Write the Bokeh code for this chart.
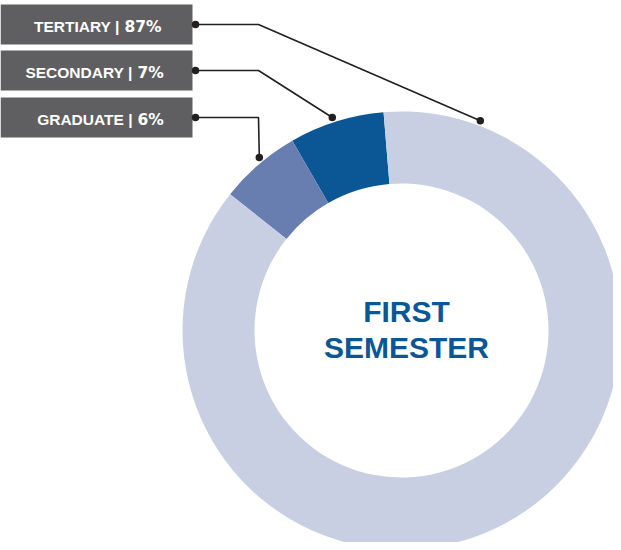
import math
from bokeh.plotting import figure
from bokeh.models import Range1d
from bokeh.embed import file_html
from bokeh.resources import INLINE
from bokeh.core.properties import value

# ---- data ----
categories = ["TERTIARY", "SECONDARY", "GRADUATE"]
shares = [87, 7, 6]
colors = ["#c8cfe2", "#0b5795", "#687eb0"]
wedge_order = ["SECONDARY", "GRADUATE", "TERTIARY"]
title_lines = ["FIRST", "SEMESTER"]

# ---- layout (page pixel coordinates; y flipped) ----
PAGE_H = 550
def Y(py):
    return PAGE_H - py

cx, cy = 401, Y(330)
r_in, r_out = 147, 219
start_deg = 94.7
anchor_deg = {"TERTIARY": 69.4, "SECONDARY": 108.0, "GRADUATE": 129.4}
r_dot = 224
row_y = [24, 70, 117]
box_top = [4, 50, 97]
box_bot = [44, 90, 137]
box_left, box_right = 0, 192
elbow_x = 258
dot_left_x = 195
label_end = [119, 132, 132]
num_start = [124, 137, 137]

p = figure(width=613, height=542, x_range=Range1d(0, 613), y_range=Range1d(8, 550),
           output_backend="svg", toolbar_location=None, min_border=0)
p.xaxis.visible = False
p.yaxis.visible = False
p.grid.visible = False
p.outline_line_color = None
p.background_fill_color = "white"
p.border_fill_color = "white"

# donut wedges
share_of = dict(zip(categories, shares))
color_of = dict(zip(categories, colors))
a = math.radians(start_deg)
xs, ys, sa, ea, cols = [], [], [], [], []
for cat in wedge_order:
    span = share_of[cat] / 100.0 * 2 * math.pi
    xs.append(cx); ys.append(cy); sa.append(a); ea.append(a + span); cols.append(color_of[cat])
    a += span
p.annular_wedge(x=xs, y=ys, inner_radius=r_in, outer_radius=r_out, start_angle=sa, end_angle=ea,
                fill_color=cols, line_color=None)

# label boxes
p.quad(left=[box_left] * 3, right=[box_right] * 3, top=[Y(t) for t in box_top],
       bottom=[Y(b) for b in box_bot], fill_color="#5f5f61", line_color=None)

# leader lines
dxs, dys = [], []
for i, cat in enumerate(categories):
    ang = math.radians(anchor_deg[cat])
    ex = cx + r_dot * math.cos(ang)
    ey = cy + r_dot * math.sin(ang)
    p.line(x=[dot_left_x, elbow_x, ex], y=[Y(row_y[i]), Y(row_y[i]), ey],
           line_color="#231f20", line_width=1.6)
    dxs += [dot_left_x, ex]
    dys += [Y(row_y[i]), ey]
p.scatter(x=dxs, y=dys, size=7.5, fill_color="#231f20", line_color=None)

# label texts
p.text(x=label_end, y=[Y(v + 2) for v in row_y], text=[c + " |" for c in categories],
       text_font=value("Liberation Sans"), text_font_style="bold", text_font_size="15.5px",
       text_color="white", text_align="right", text_baseline="middle")
p.text(x=num_start, y=[Y(v + 2) for v in row_y], text=[f"{s}%" for s in shares],
       text_font=value("DejaVu Sans"), text_font_style="bold", text_font_size="15.5px",
       text_color="white", text_align="left", text_baseline="middle")

# center title
p.text(x=[406, 406], y=[Y(311), Y(346.5)], text=title_lines,
       text_font=value("Liberation Sans"), text_font_style="bold", text_font_size="30px",
       text_color="#0b5795", text_align="center", text_baseline="middle")

open("out.html", "w").write(file_html(p, INLINE))
